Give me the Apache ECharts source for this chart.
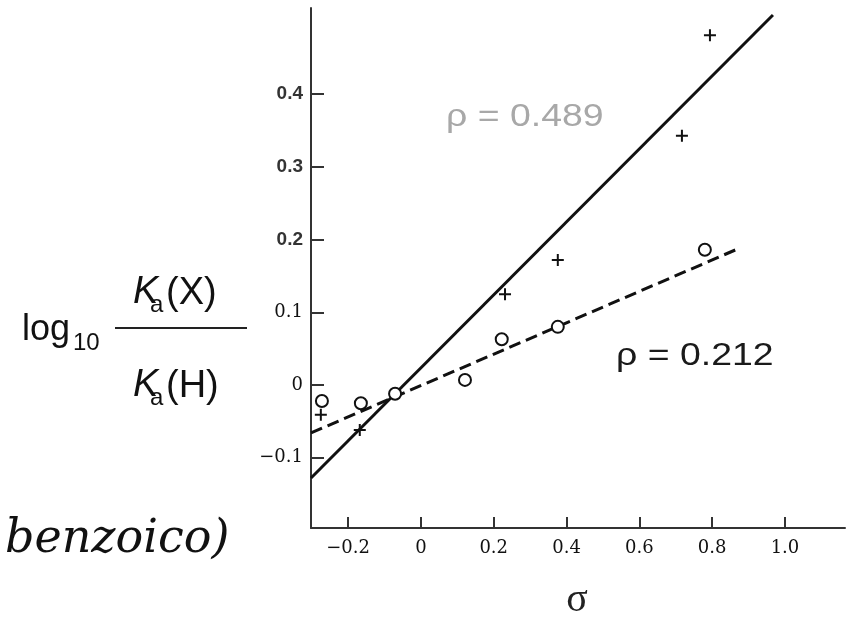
<!DOCTYPE html>
<html><head><meta charset="utf-8">
<script src="https://cdn.jsdelivr.net/npm/echarts@6/dist/echarts.min.js"></script>
<style>html,body{margin:0;padding:0;background:#fff}#c{width:849px;height:617px}</style>
</head><body><div id="c"></div>
<script>
// σ vs log10(Ka(X)/Ka(H))
const plusPoints = [[-0.275,-0.041],[-0.168,-0.062],[0.231,0.125],[0.376,0.172],[0.717,0.343],[0.794,0.481]];
const circlePoints = [[-0.272,-0.022],[-0.165,-0.025],[-0.071,-0.012],[0.121,0.007],[0.222,0.063],[0.376,0.080],[0.780,0.186]];
const solidFit = [[-0.302,-0.128],[0.967,0.509]];
const dashedFit = [[-0.302,-0.066],[0.874,0.188]];
const xTicks = [-0.2,0,0.2,0.4,0.6,0.8,1.0];
const xTickLabels = ['\u22120.2','0','0.2','0.4','0.6','0.8','1.0'];
const yTicks = [-0.1,0,0.1,0.2,0.3,0.4];
const yTickLabels = ['\u22120.1','0','0.1','0.2','0.3','0.4'];
const rhoLabels = ['\u03c1 = 0.489','\u03c1 = 0.212'];

function lookup(ticks, labels, v){
  for (let i=0;i<ticks.length;i++) if (Math.abs(ticks[i]-v)<1e-6) return labels[i];
  return '';
}

const chart = echarts.init(document.getElementById('c'));
chart.setOption({
  backgroundColor:'#fff',
  animation:false,
  grid:{left:311,right:4,top:8,bottom:89,containLabel:false},
  xAxis:{
    type:'value', min:-0.302, max:1.165,
    axisLine:{show:true,onZero:false,lineStyle:{color:'#333',width:2}},
    axisTick:{show:true,inside:true,length:11,customValues:xTicks,lineStyle:{color:'#333',width:2}},
    axisLabel:{show:true,customValues:xTicks,margin:11,color:'#111',fontFamily:'DejaVu Serif',fontSize:18,
      formatter:v=>lookup(xTicks,xTickLabels,v)},
    splitLine:{show:false}
  },
  yAxis:{
    type:'value', min:-0.1967, max:0.5186,
    axisLine:{show:true,onZero:false,lineStyle:{color:'#333',width:2}},
    axisTick:{show:true,inside:true,length:13,customValues:yTicks,lineStyle:{color:'#333',width:2}},
    axisLabel:{show:true,customValues:yTicks,margin:8,color:'#111',
      formatter:v=>{const t=lookup(yTicks,yTickLabels,v); return v>0.15?'{s|'+t+'}':'{r|'+t+'}';},
      rich:{s:{fontFamily:'Liberation Sans',fontWeight:'bold',fontSize:19,color:'#333'},r:{fontFamily:'DejaVu Serif',fontSize:18,color:'#111'}}},
    splitLine:{show:false}
  },
  series:[
    {type:'line',data:solidFit,showSymbol:false,symbol:'none',lineStyle:{color:'#111',width:3},z:2},
    {type:'line',data:dashedFit,showSymbol:false,symbol:'none',lineStyle:{color:'#111',width:3,type:[12,6]},z:2},
    {type:'scatter',data:plusPoints,symbol:'path://M5,0h2v5h5v2h-5v5h-2v-5h-5v-2h5z',symbolSize:12,itemStyle:{color:'#111',opacity:1},z:3},
    {type:'scatter',data:circlePoints,symbol:'circle',symbolSize:12,itemStyle:{color:'#fff',borderColor:'#111',borderWidth:2,opacity:1},z:4}
  ],
  graphic:[
    {type:'text',x:446,y:117,scaleX:1.17,style:{text:rhoLabels[0],font:'32px "Liberation Sans"',fill:'#a8a8a8',textVerticalAlign:'middle'}},
    {type:'text',x:616,y:356,scaleX:1.17,style:{text:rhoLabels[1],font:'32px "Liberation Sans"',fill:'#1a1a1a',textVerticalAlign:'middle'}},
    {type:'text',x:577,y:600,style:{text:'\u03c3',font:'40px "Liberation Serif"',fill:'#222',textAlign:'center',textVerticalAlign:'middle'}},
    {type:'text',x:22,y:330,style:{text:'log',font:'36px "Liberation Sans"',fill:'#111',textVerticalAlign:'middle'}},
    {type:'text',x:73,y:343,style:{text:'10',font:'24px "Liberation Sans"',fill:'#111',textVerticalAlign:'middle'}},
    {type:'text',x:133,y:292,style:{text:'K',font:'italic 38px "Liberation Sans"',fill:'#111',textVerticalAlign:'middle'}},
    {type:'text',x:150,y:305,style:{text:'a',font:'24px "Liberation Sans"',fill:'#111',textVerticalAlign:'middle'}},
    {type:'text',x:166,y:294,style:{text:'(X)',font:'38px "Liberation Sans"',fill:'#111',textVerticalAlign:'middle'}},
    {type:'line',shape:{x1:115,y1:328,x2:247,y2:328},style:{stroke:'#222',lineWidth:2}},
    {type:'text',x:133,y:385,style:{text:'K',font:'italic 38px "Liberation Sans"',fill:'#111',textVerticalAlign:'middle'}},
    {type:'text',x:150,y:398,style:{text:'a',font:'24px "Liberation Sans"',fill:'#111',textVerticalAlign:'middle'}},
    {type:'text',x:166,y:387,style:{text:'(H)',font:'38px "Liberation Sans"',fill:'#111',textVerticalAlign:'middle'}},
    {type:'text',x:5,y:540,style:{text:'benzoico)',font:'italic 46px "DejaVu Serif"',fill:'#111',textVerticalAlign:'middle'}}
  ]
});
</script></body></html>
